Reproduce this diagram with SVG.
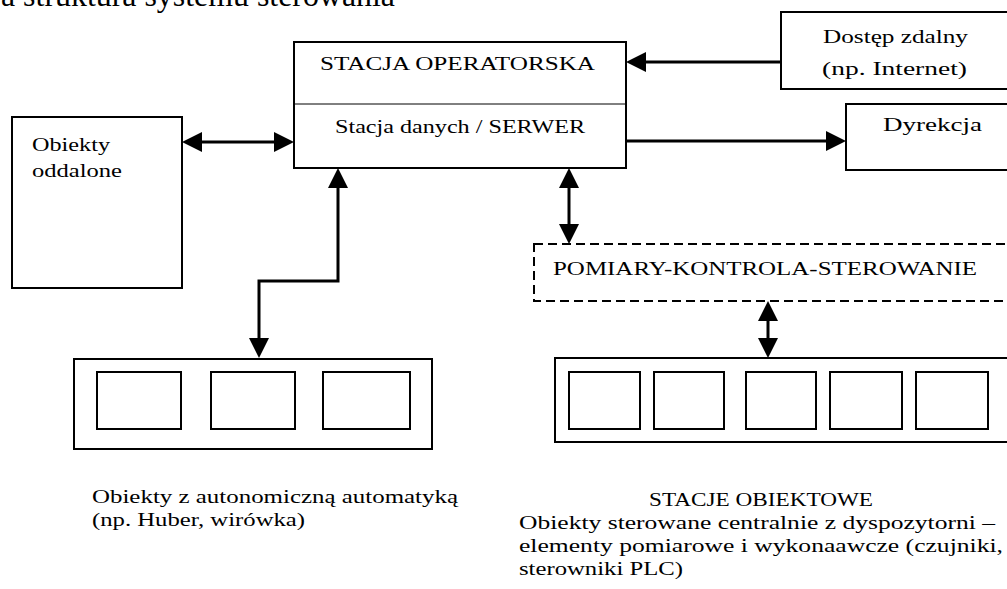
<svg xmlns="http://www.w3.org/2000/svg" width="1007" height="589" viewBox="0 0 1007 589">
  <style>
    .box { fill: #fff; stroke: #000; stroke-width: 2; }
    .dash { fill: #fff; stroke: #000; stroke-width: 2; stroke-dasharray: 9 5; }
    .thin { stroke: #000; stroke-width: 1; }
    .link { fill: none; stroke: #000; stroke-width: 3; marker-end: url(#head); }
    .both { marker-start: url(#head); }
    text { font-family: "Liberation Serif", "Times New Roman", serif; font-size: 18px; fill: #000; }
    .title { font-size: 31px; }
  </style>
  <defs>
    <marker id="head" viewBox="0 0 20 20" refX="12" refY="10" markerWidth="20" markerHeight="20" markerUnits="userSpaceOnUse" orient="auto-start-reverse">
      <path d="M0,0 L20,10 L0,20 z" fill="#000"/>
    </marker>
  </defs>

  <rect width="1007" height="589" fill="#fff"/>

  <!-- heading, cut at the top edge -->
  <text class="title" x="1" y="6" textLength="394" lengthAdjust="spacingAndGlyphs">a struktura systemu sterowania</text>

  <g id="connectors">
    <!-- remote access -> operator station -->
    <line class="link" x1="781" y1="62" x2="634" y2="62"/>
    <!-- operator station -> management -->
    <line class="link" x1="626" y1="141" x2="838" y2="141"/>
    <!-- remote objects <-> operator station -->
    <line class="link both" x1="190" y1="142" x2="286" y2="142"/>
    <!-- operator station <-> autonomous objects -->
    <path class="link both" d="M338,176 V281 H259 V350"/>
    <!-- operator station <-> measurement/control layer -->
    <line class="link both" x1="569" y1="176" x2="569" y2="236"/>
    <!-- measurement/control layer <-> object stations -->
    <line class="link both" x1="768" y1="309" x2="768" y2="350"/>
  </g>

  <g id="operator-station">
    <rect class="box" x="294" y="42" width="332" height="126"/>
    <line class="thin" x1="294" y1="104" x2="626" y2="104"/>
    <text x="320" y="70" textLength="275" lengthAdjust="spacingAndGlyphs">STACJA OPERATORSKA</text>
    <text x="335" y="133" textLength="250" lengthAdjust="spacingAndGlyphs">Stacja danych / SERWER</text>
  </g>

  <g id="remote-access">
    <rect class="box" x="781" y="12" width="240" height="77"/>
    <text x="823" y="43" textLength="145" lengthAdjust="spacingAndGlyphs">Dostęp zdalny</text>
    <text x="822" y="75" textLength="145" lengthAdjust="spacingAndGlyphs">(np. Internet)</text>
  </g>

  <g id="management">
    <rect class="box" x="846" y="104" width="200" height="66"/>
    <text x="883" y="131" textLength="99" lengthAdjust="spacingAndGlyphs">Dyrekcja</text>
  </g>

  <g id="remote-objects">
    <rect class="box" x="12" y="117" width="170" height="171"/>
    <text x="32" y="151" textLength="78" lengthAdjust="spacingAndGlyphs">Obiekty</text>
    <text x="32" y="177" textLength="90" lengthAdjust="spacingAndGlyphs">oddalone</text>
  </g>

  <g id="measurement-control">
    <rect class="dash" x="534" y="244" width="500" height="57"/>
    <text x="553" y="275" textLength="424" lengthAdjust="spacingAndGlyphs">POMIARY-KONTROLA-STEROWANIE</text>
  </g>

  <g id="autonomous-objects">
    <rect class="box" x="74" y="359" width="358" height="90"/>
    <rect class="box" x="97" y="372" width="84" height="57"/>
    <rect class="box" x="211" y="372" width="84" height="57"/>
    <rect class="box" x="323" y="372" width="87" height="57"/>
    <text x="92" y="503" textLength="366" lengthAdjust="spacingAndGlyphs">Obiekty z autonomiczną automatyką</text>
    <text x="92" y="526" textLength="213" lengthAdjust="spacingAndGlyphs">(np. Huber, wirówka)</text>
  </g>

  <g id="object-stations">
    <rect class="box" x="555" y="358" width="500" height="84"/>
    <rect class="box" x="569" y="372" width="71" height="57"/>
    <rect class="box" x="654" y="372" width="70" height="57"/>
    <rect class="box" x="746" y="372" width="70" height="57"/>
    <rect class="box" x="830" y="372" width="72" height="57"/>
    <rect class="box" x="916" y="372" width="72" height="57"/>
    <text x="649" y="506" textLength="224" lengthAdjust="spacingAndGlyphs">STACJE OBIEKTOWE</text>
    <text x="519" y="529" textLength="476" lengthAdjust="spacingAndGlyphs">Obiekty sterowane centralnie z dyspozytorni –</text>
    <text x="519" y="552" textLength="484" lengthAdjust="spacingAndGlyphs">elementy pomiarowe i wykonaawcze (czujniki,</text>
    <text x="519" y="575" textLength="164" lengthAdjust="spacingAndGlyphs">sterowniki PLC)</text>
  </g>
</svg>
